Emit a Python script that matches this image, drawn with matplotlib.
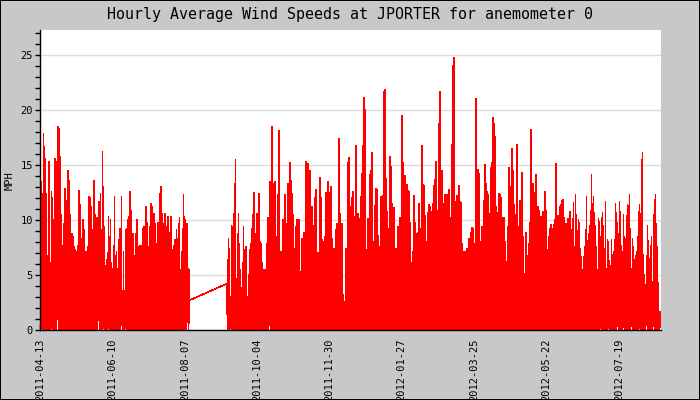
import matplotlib
matplotlib.use("Agg")
import matplotlib.pyplot as plt
import numpy as np
import pandas as pd

title = "Hourly Average Wind Speeds at JPORTER for anemometer 0"
y_label = "MPH"

# wind speed (MPH): peak and trough of each ~19h window
seg1_start, seg1_end = "2011-04-13 10:00", "2011-08-10 12:00"
seg1_high = [
    8.3, 13.5, 12.4, 17.9, 16.7, 15.6, 12.4, 6.8, 15.3, 15.3,
    6.1, 12.6, 12.0, 10.0, 15.6, 15.3, 9.2, 18.5, 18.3, 15.8,
    10.5, 7.7, 7.6, 9.7, 12.9, 11.8, 11.2, 14.5, 13.6, 10.5,
    5.9, 8.8, 8.5, 7.6, 7.3, 7.1, 6.5, 7.7, 12.7, 11.4,
    8.0, 8.3, 10.0, 9.1, 7.1, 7.1, 5.2, 7.6, 12.1, 12.0,
    11.2, 7.1, 9.1, 13.6, 10.5, 10.0, 10.2, 5.0, 11.7, 12.4,
    9.1, 16.2, 13.0, 9.4, 5.9, 6.4, 7.0, 10.3, 8.5, 10.0,
    6.1, 5.6, 7.7, 12.1, 6.8, 7.1, 5.6, 8.2, 9.2, 9.2,
    12.1, 3.5, 7.1, 3.6, 9.1, 9.2, 10.0,
    10.3, 12.6, 10.9, 7.1, 8.8, 4.7, 6.8, 8.8, 10.0, 7.6,
    6.7, 7.7, 7.7, 6.7, 9.2, 9.4, 7.0, 11.2, 9.8, 7.6,
    5.5, 9.4, 11.5, 11.2, 8.0, 10.6, 9.7, 7.4, 7.9, 9.8,
    9.8, 12.4, 13.0, 10.6, 9.7, 5.8, 10.6, 9.1, 9.4, 10.3,
    8.9, 8.8, 10.3, 7.3, 5.0, 7.7, 8.2, 9.1, 8.3, 9.7,
    10.2, 5.5, 7.1, 9.2, 12.3, 10.3, 10.0, 9.7, 9.7, 5.6,
    5.5,
]
seg1_low = [
    0, 1, 0, 0, 0, 0, 0, 1, 0, 0, 0, 3, 0, 3, 0, 0, 1, 3, 0, 0,
    0, 0, 0, 1, 0, 0, 0, 0, 0, 0, 1, 0, 0, 0, 0, 0, 0, 0, 1, 0,
    2, 0, 0, 0, 0, 0, 1, 0, 0, 0, 0, 2, 0, 0, 0, 0, 0, 2, 1, 0,
    0, 0, 2, 0, 0, 0, 0, 1, 0, 0, 0, 0, 1, 0, 0, 0, 0, 0, 0, 0,
    4, 0, 0, 0, 3, 0, 0, 0, 0, 0, 0, 0, 1, 0, 0, 0, 0, 0, 0, 0,
    0, 3, 0, 0, 0, 0, 0, 0, 0, 0, 1, 0, 0, 0, 0, 2, 0, 0, 0, 0,
    2, 0, 0, 0, 0, 0, 2, 0, 0, 0, 0, 2, 0, 0, 0, 0, 0, 0, 1, 0,
    0, 0, 0, 0, 0, 4, 0, 2.7,
]

seg2_start, seg2_end = "2011-09-09 05:00", "2012-08-21 00:00"
seg2_high = [
    4.2,
    6.4, 8.3, 7.4, 2.7, 9.5, 9.4, 10.6, 13.3, 15.5, 4.7,
    8.8, 10.6, 7.9, 5.5, 3.9, 6.1, 9.4, 7.3, 7.6, 1.5,
    3.0, 5.0, 7.3, 7.9, 9.2, 10.5, 12.5, 6.7, 8.8, 10.6,
    4.8, 12.4, 8.0, 7.9, 6.1, 4.2, 5.5, 5.5, 4.2, 7.9,
    10.2, 0.6, 13.5, 13.2, 18.5, 13.3, 7.4, 13.5, 4.5, 8.5,
    12.3, 18.1, 5.8, 7.1, 6.4, 10.0, 4.2, 12.3, 9.7, 8.8,
    13.3, 7.3, 15.2, 13.6, 12.4, 10.5, 3.3, 7.4, 9.4, 10.0,
    6.2, 10.0, 5.3, 5.3, 8.3, 5.6, 8.9,
    2.3, 15.3, 13.5, 15.1, 13.0, 14.5, 8.2, 11.2, 9.5, 5.8,
    12.0, 12.8, 4.0, 7.0, 5.8, 13.9, 12.0, 8.2, 8.0, 6.1,
    8.5, 12.5, 10.1, 13.5, 12.5, 11.8, 13.0, 8.3, 5.5, 7.4,
    7.1, 9.1, 9.7, 3.8, 17.4, 10.6, 9.2, 9.7, 3.2, 0.9,
    2.6, 7.4, 3.9, 15.2, 15.7, 11.2, 10.2, 12.0, 12.6, 10.3,
    7.8, 16.8, 7.3, 10.6, 9.2, 10.1, 12.1, 14.2, 16.8, 21.1,
    20.0, 7.3, 4.0, 10.1, 9.1, 14.1, 14.5, 16.1, 8.0, 4.8,
    11.3, 12.9, 12.8, 8.6, 7.6, 4.4, 12.1, 7.4, 12.2, 21.7,
    21.9, 13.8, 10.8, 8.0, 9.2, 15.8, 14.9, 11.5,
    9.1, 11.1, 6.4, 7.4, 6.4, 9.4, 8.5, 10.2, 8.6, 19.5,
    15.2, 10.9, 14.0, 12.1, 13.2, 12.7, 12.6, 9.8, 4.2, 6.1,
    7.1, 12.2, 9.8, 5.8, 8.8, 8.9, 11.5, 9.2, 9.1, 16.8,
    13.2, 13.1, 10.4, 8.0, 7.1, 10.7, 11.4, 11.2, 5.8, 10.8,
    11.5, 13.1, 13.7, 15.3, 10.9, 1.8, 18.8, 21.7, 11.7, 14.5,
    11.5, 7.6, 12.3, 10.2, 12.3, 8.9, 12.8, 8.0, 10.2, 16.9,
    24.0, 24.8, 11.7, 9.8, 12.2, 9.8, 13.1, 11.7, 11.6, 7.9,
    7.1, 4.5, 7.1, 6.7, 7.4, 7.1, 8.3, 5.9, 8.9, 9.3,
    9.2, 7.9, 5.5, 21.0, 4.2, 14.6, 14.2, 5.5,
    8.0, 9.4, 8.9, 11.8, 15.0, 13.3, 12.6, 12.3, 9.5, 10.6,
    14.8, 15.2, 19.3, 18.8, 17.6, 11.2, 10.7, 7.7, 12.4, 12.3,
    12.0, 10.2, 3.6, 10.2, 8.0, 6.2, 6.2, 9.4, 14.8, 12.9,
    13.0, 16.5, 14.5, 11.4, 10.5, 8.9, 16.9, 9.4, 7.6, 11.8,
    8.4, 14.3, 8.5, 5.1, 2.4, 8.9, 5.5, 6.8, 7.9, 9.8,
    18.2, 9.8, 13.3, 12.5, 7.7, 14.1, 10.0, 11.2, 10.9, 10.3,
    7.7, 10.3, 10.8, 10.6, 12.6, 10.9, 7.3, 4.1, 8.5, 9.2,
    9.6, 8.2, 9.2, 9.6, 10.0, 15.1, 5.8, 10.4, 7.9, 11.2,
    11.4, 11.8, 11.9, 10.2, 4.5, 9.7, 9.7,
    10.1, 8.9, 10.8, 9.1, 10.1, 11.6, 7.6, 12.3, 10.5, 9.0,
    10.0, 9.8, 7.4, 6.7, 5.5, 6.7, 7.6, 9.1, 12.1, 8.1,
    8.8, 9.5, 10.9, 14.1, 11.5, 12.1, 10.7, 9.5, 7.6, 5.5,
    10.1, 9.9, 8.5, 10.2, 10.7, 9.5, 7.4, 11.7, 5.6, 8.2,
    8.0, 6.3, 5.9, 8.2, 6.9, 7.1, 8.2, 11.5, 10.7, 9.8,
    8.8, 11.7, 10.8, 7.7, 7.1, 10.5, 8.5, 8.3, 10.4, 11.4,
    11.3, 12.3, 9.2, 5.6, 8.3, 7.6, 6.4, 6.8, 7.1, 8.5,
    10.8, 11.4, 10.6, 15.5, 16.1, 6.9, 5.0, 4.1, 6.8, 9.5,
    8.1, 6.5, 7.7, 8.5, 4.4, 10.5, 11.9, 12.3, 9.7, 7.6,
    4.3, 1.7, 1.7,
]
seg2_low = [
    4.2, 0, 0, 0, 3, 0, 0, 0, 0, 2, 0, 1, 0, 0, 0, 0, 0, 0, 0, 0,
    0, 0, 0, 2, 0, 0, 0, 1, 0, 0, 0, 2, 0, 0, 0, 0, 0, 0, 0, 0,
    0, 0, 1, 1, 0, 0, 0, 2, 0, 0, 0, 0, 1, 0, 0, 0, 0, 0, 0, 0,
    0, 0, 0, 0, 0, 0, 0, 0, 0, 0, 0, 3, 0, 0, 0, 0, 0, 0, 1, 0,
    0, 0, 2, 0, 0, 0, 1, 0, 0, 0, 0, 3, 0, 0, 0, 0, 2, 0, 0, 0,
    0, 0, 0, 4, 0, 0, 0, 0, 1, 0, 0, 0, 0, 0, 0, 2, 0, 0, 0, 0,
    1, 0, 0, 0, 0, 0, 0, 0, 2, 0, 0, 0, 0, 3, 0, 0, 0, 0, 0, 1,
    0, 0, 0, 0, 2, 0, 0, 0, 0, 0, 0, 0, 3, 0, 0, 0, 0, 0, 0, 1,
    0, 0, 0, 0, 0, 0, 4, 0, 0, 0, 0, 0, 0, 2, 0, 0, 0, 0, 0, 0,
    3, 0, 0, 0, 0, 0, 0, 0, 1, 0, 0, 0, 0, 0, 4, 0, 0, 0, 0, 0,
    0, 2, 0, 0, 0, 0, 0, 0, 0, 3, 0, 0, 0, 0, 0, 0, 1, 0, 0, 0,
    0, 0, 0, 4, 0, 0, 0, 0, 0, 0, 0, 2, 0, 0, 0, 0, 0, 0, 3, 0,
    0, 0, 0, 0, 0, 1, 0, 0, 0, 0, 4, 0, 0, 0, 0, 0, 0, 2, 0, 0,
    0, 0, 0, 0, 3, 0, 0, 0, 0, 0, 0, 0, 0, 1, 0, 0, 0, 0, 0, 4,
    0, 0, 0, 0, 0, 0, 2, 0, 0, 0, 0, 0, 3, 0, 0, 0, 0, 0, 0, 0,
    1, 0, 0, 0, 0, 0, 0, 4, 0, 0, 0, 0, 0, 0, 2, 0, 0, 0, 0, 0,
    0, 3, 0, 0, 0, 0, 0, 0, 0, 1, 0, 0, 0, 0, 0, 0, 3, 0, 0, 0,
    0, 0, 0, 2, 0, 0, 0, 0, 0, 0, 0, 4, 0, 0, 0, 0, 0, 0, 0, 2,
    0, 0, 0, 0, 0, 0, 1, 0, 0, 0, 0, 0, 0, 3, 0, 0, 0, 0, 0, 0,
    0, 2, 0, 0, 0, 0, 0, 0, 0, 0, 4, 0, 0, 0, 0, 0, 2, 0, 0, 0,
    0, 0, 0, 0, 3, 0, 0, 0, 0, 0, 0, 0, 1, 0, 0, 0, 0, 0, 0, 3,
    0, 0, 0, 0, 0, 0, 2, 0, 0, 0, 0, 0, 0, 1,
]

tick_dates = ["2011-04-13", "2011-06-10", "2011-08-07", "2011-10-04", "2011-11-30",
              "2012-01-27", "2012-03-25", "2012-05-22", "2012-07-19"]
x_range = ("2011-04-13", "2012-08-21 10:00")
y_max = 27.27


def swings(start, end, high, low):
    # within each window the hourly line swings low -> high -> low
    t = pd.date_range(start, end, periods=len(high)).values
    times = np.repeat(t, 3)
    vals = np.column_stack([low, high, low]).ravel()
    return times, vals


t1, v1 = swings(seg1_start, seg1_end, seg1_high, seg1_low)
t2, v2 = swings(seg2_start, seg2_end, seg2_high, seg2_low)
times = np.concatenate([t1, t2])
vals = np.concatenate([v1, v2])

mono = "DejaVu Sans Mono"
fig = plt.figure(figsize=(7, 4), dpi=100, facecolor="#c8c8c8",
                 edgecolor="black", linewidth=1.4)
ax = fig.add_axes([40 / 700, 70 / 400, 621 / 700, 300 / 400])
ax.set_facecolor("white")

ax.plot(times, vals, color="#ff0000", lw=0.45, antialiased=False,
        solid_joinstyle="miter", zorder=3)

ax.set_xlim(pd.Timestamp(x_range[0]), pd.Timestamp(x_range[1]))
ax.set_ylim(0, y_max)
ax.set_yticks(range(0, 26, 5))
ax.set_yticks(range(0, 28), minor=True)
ax.grid(axis="y", which="major", color="#dcdcdc", lw=1, zorder=0)

ticks = pd.to_datetime(tick_dates)
ax.set_xticks(ticks)
ax.set_xticklabels(tick_dates, rotation=90, family=mono, fontsize=7.5)
for lab in ax.get_yticklabels():
    lab.set_family(mono)
    lab.set_fontsize(7.5)

ax.tick_params(axis="x", direction="in", length=4, width=1, pad=6)
ax.tick_params(axis="y", which="both", direction="out", length=3.5, width=1, pad=1.5)

for s in ("top", "right"):
    ax.spines[s].set_visible(False)
for s in ("left", "bottom"):
    ax.spines[s].set_linewidth(1)
    ax.spines[s].set_zorder(4)

fig.text(0.5, 1 - 15 / 400, title, ha="center", va="center",
         family=mono, fontsize=10.8)
fig.text(10 / 700, 1 - 181 / 400, y_label, ha="center", va="center",
         rotation=90, family=mono, fontsize=7.5)

fig.savefig("out.png", dpi=100, facecolor=fig.get_facecolor(), edgecolor="black")
